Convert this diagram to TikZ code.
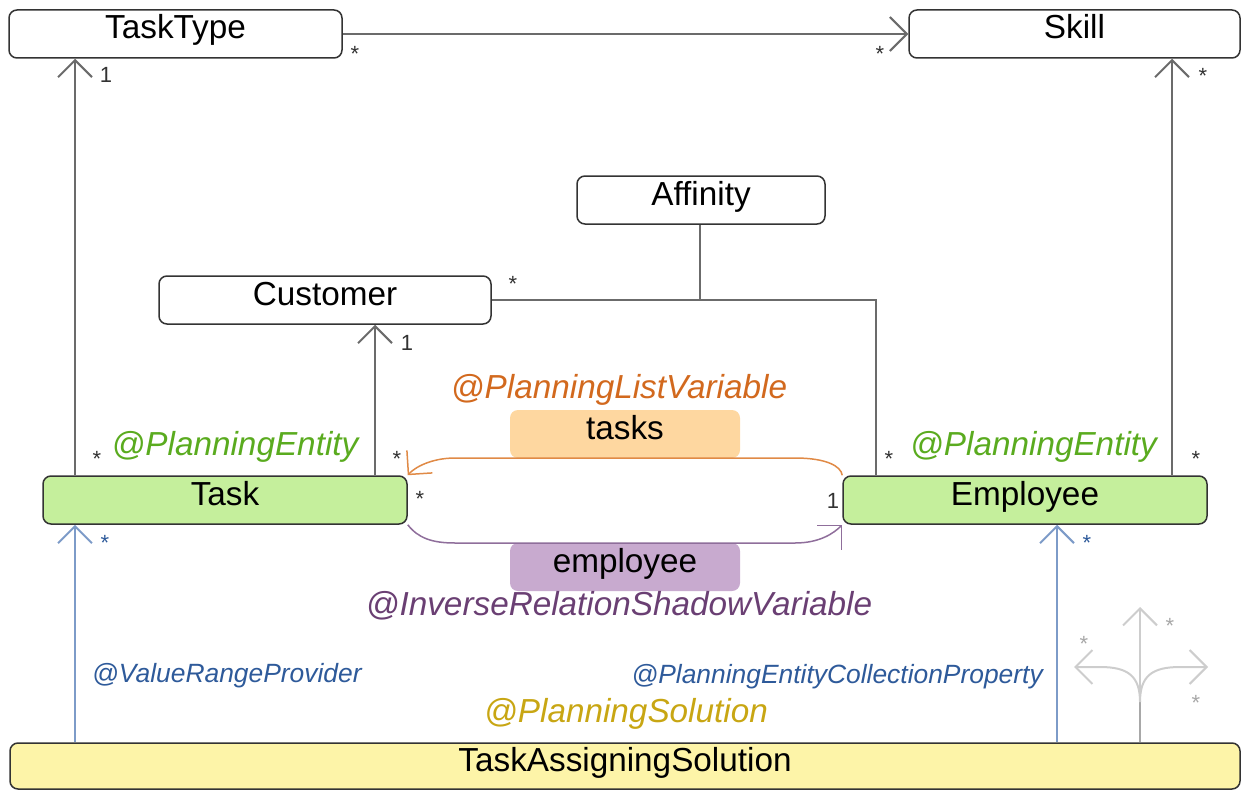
\documentclass[tikz,border=0pt]{standalone}
\usepackage{fontspec}
\setmainfont{Liberation Sans}
\usetikzlibrary{arrows.meta}
\definecolor{boxline}{HTML}{333333}
\definecolor{linegray}{HTML}{6B6B6B}
\definecolor{greenfill}{HTML}{C5EF9C}
\definecolor{yellowfill}{HTML}{FDF4A8}
\definecolor{orangefill}{HTML}{FED7A0}
\definecolor{purplefill}{HTML}{C8AACF}
\definecolor{greentext}{HTML}{5AAB1F}
\definecolor{orangetext}{HTML}{D2691E}
\definecolor{purpletext}{HTML}{6A3F73}
\definecolor{bluetext}{HTML}{2E5A9A}
\definecolor{goldtext}{HTML}{C8A613}
\definecolor{blueline}{HTML}{7D9BC8}
\definecolor{orangeline}{HTML}{E08A46}
\definecolor{purpleline}{HTML}{8F6E9B}
\definecolor{iconlight}{HTML}{CDCDCD}
\definecolor{icondark}{HTML}{A8A8A8}
\definecolor{multtext}{HTML}{333333}
\begin{document}
\begin{tikzpicture}[x=1pt,y=-1pt,
  box/.style={draw=boxline, line width=1.5pt, rounded corners=8pt, minimum height=48pt,
    inner sep=0pt, text height=21pt, text depth=11pt, font=\fontsize{33.3}{39}\selectfont},
  plainbox/.style={box, fill=white},
  entitybox/.style={box, fill=greenfill},
  solutionbox/.style={box, fill=yellowfill, minimum height=46pt},
  varbox/.style={rounded corners=8pt, minimum height=48pt, minimum width=230pt, inner sep=0pt,
    text height=21pt, text depth=11pt, font=\fontsize{33.3}{39}\selectfont},
  annot/.style={inner sep=0pt, anchor=base, font=\fontsize{33.3}{39}\selectfont\itshape},
  smallannot/.style={inner sep=0pt, anchor=base, font=\fontsize{26.4}{31}\selectfont\itshape, text=bluetext},
  mult/.style={inner sep=0pt, anchor=base, font=\fontsize{22}{26}\selectfont, text=multtext},
  conn/.style={draw=linegray, line width=2pt},
  uarrow/.style={-{Straight Barb[length=17pt,width=34pt]}},
  bconn/.style={draw=blueline, line width=2pt},
  iconline/.style={draw=iconlight, line width=2pt},
]
\useasboundingbox (0,0) rectangle (1241,789);

% label boxes for the list variable
\node[varbox, fill=orangefill] (tasksbox) at (625,434) {tasks};
\node[varbox, fill=purplefill] (employeebox) at (625,567) {employee};

% class boxes
\node[plainbox, minimum width=333pt] (tasktype) at (175.5,34) {TaskType};
\node[plainbox, minimum width=331pt] (skill) at (1074.5,34) {Skill};
\node[plainbox, minimum width=248pt] (affinity) at (701,200) {Affinity};
\node[plainbox, minimum width=332pt] (customer) at (325,300) {Customer};
\node[entitybox, minimum width=364pt] (task) at (225,500) {Task};
\node[entitybox, minimum width=364pt] (employee) at (1025,500) {Employee};
\node[solutionbox, minimum width=1230pt] (solution) at (625,766) {TaskAssigningSolution};

% columns for vertical connectors
\coordinate (colA) at (75,0);
\coordinate (colB) at (375,0);
\coordinate (colC) at (1172,0);
\coordinate (colD) at (1057,0);
\coordinate (colE) at (700,0);
\coordinate (colF) at (876,0);
\coordinate (junction) at (700,300);
\coordinate (bend) at (876,300);

% gray connectors
\draw[conn, uarrow] (tasktype.east) -- (skill.west);
\draw[conn, uarrow] (task.north -| colA) -- (tasktype.south -| colA);
\draw[conn, uarrow] (task.north -| colB) -- (customer.south -| colB);
\draw[conn, uarrow] (employee.north -| colC) -- (skill.south -| colC);
\draw[conn] (customer.east) -- (bend) -- (employee.north -| colF);
\draw[conn] (affinity.south -| colE) -- (junction);

% blue connectors
\draw[bconn, uarrow] (solution.north -| colA) -- (task.south -| colA);
\draw[bconn, uarrow] (solution.north -| colD) -- (employee.south -| colD);

% list variable loop
\draw[draw=orangeline, line width=1.5pt, uarrow] (employee.north west)
  .. controls (841,466) and (826,458) .. (795,458) -- (455,458)
  .. controls (432,458) and (415,467) .. (task.north east);
\draw[draw=purpleline, line width=1.5pt, uarrow] (task.south east)
  .. controls (418,538) and (432,543) .. (455,543) -- (795,543)
  .. controls (820,543) and (834,533) .. (employee.south west);

% annotations
\node[annot, text=orangetext] (plv) at (619,398) {@PlanningListVariable};
\node[annot, text=purpletext] (irsv) at (619,615) {@InverseRelationShadowVariable};
\node[annot, text=goldtext] (ps) at (626,722) {@PlanningSolution};
\node[annot, text=greentext] (pe1) at (235,455) {@PlanningEntity};
\node[annot, text=greentext] (pe2) at (1033.5,455) {@PlanningEntity};
\node[smallannot, anchor=base west] (vrp) at (92,682) {@ValueRangeProvider};
\node[smallannot, anchor=base east] (pecp) at (1043,683) {@PlanningEntityCollectionProperty};

% multiplicities
\node[mult] (m1) at (355,62) {*};
\node[mult] (m2) at (880,62) {*};
\node[mult] (m3) at (106,83) {1};
\node[mult] (m4) at (97,466) {*};
\node[mult] (m5) at (407,350) {1};
\node[mult] (m6) at (397,466) {*};
\node[mult] (m7) at (513,291) {*};
\node[mult] (m8) at (889,466) {*};
\node[mult] (m9) at (1196,466) {*};
\node[mult] (m10) at (1203,84) {*};
\node[mult] (m11) at (420,506) {*};
\node[mult] (m12) at (833,508) {1};
\node[mult, text=bluetext] (m13) at (105,550) {*};
\node[mult, text=bluetext] (m14) at (1087,550) {*};

% decorative icon
\coordinate (istem) at (1140,742);
\coordinate (ifork) at (1140,702);
\draw[draw=icondark, line width=2pt] (istem) -- (ifork);
\draw[iconline, uarrow] (ifork) -- (1140,607);
\draw[iconline, uarrow] (ifork) .. controls (1140,676) and (1128,667) .. (1100,667) -- (1074,667);
\draw[iconline, uarrow] (ifork) .. controls (1140,676) and (1152,667) .. (1180,667) -- (1208,667);
\node[mult, text=icondark] (s1) at (1084,651) {*};
\node[mult, text=icondark] (s2) at (1170,633) {*};
\node[mult, text=icondark] (s3) at (1196,710) {*};
\end{tikzpicture}
\end{document}
